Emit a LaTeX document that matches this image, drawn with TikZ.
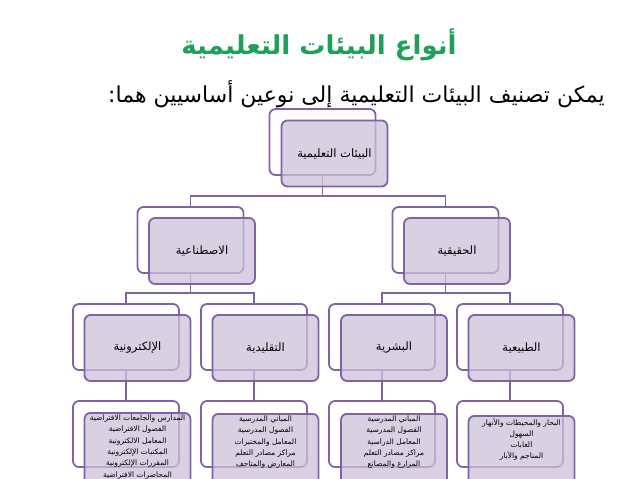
\documentclass[tikz,border=0pt]{standalone}
\usepackage{fontspec}
\newfontfamily\arabicfont[Script=Arabic]{DejaVu Sans}
\TeXXeTstate=1
\usetikzlibrary{backgrounds}
\definecolor{roxo}{RGB}{128,100,162}
\definecolor{lilas}{RGB}{204,193,218}
\definecolor{verde}{RGB}{30,160,90}
\newcommand{\rtltxt}[1]{\beginR #1\endR}
\begin{document}
\begin{tikzpicture}[x=1pt, y=-1pt]
\tikzset{
    ligacao/.style={-, line width=1.6pt, draw=roxo},
    fundo/.style={rectangle, rounded corners=6pt, line width=1.8pt, draw=roxo, fill=white,
                  minimum width=106pt, minimum height=66pt, inner sep=0pt},
    caixa/.style={fundo, fill=lilas, fill opacity=0.75, text opacity=1,
                  font=\arabicfont\fontsize{11.5}{14}\selectfont},
    folha/.style={caixa, anchor=north, minimum height=0pt, text depth=50pt, inner ysep=2pt,
                  align=center, font=\arabicfont\fontsize{7.5}{11.3}\selectfont}
}
\clip (0,0) rectangle (638,479);
\node[font=\arabicfont\bfseries\fontsize{26}{30}\selectfont, text=verde] (titulo) at (319,45) {\rtltxt{أنواع البيئات التعليمية}};
\node[font=\arabicfont\fontsize{22}{26}\selectfont] (subtitulo) at (356.5,94) {\rtltxt{يمكن تصنيف البيئات التعليمية إلى نوعين أساسيين هما:}};
% raiz
\node[fundo] (raiz-f) at (322.5,142) {};
\node[caixa] (raiz)   at (334.5,153.5) {\rtltxt{البيئات التعليمية}};
% segundo nivel
\node[fundo] (art-f)  at (190.5,240) {};
\node[caixa] (art)    at (202,251) {\rtltxt{الاصطناعية}};
\node[fundo] (real-f) at (445.5,240) {};
\node[caixa] (real)   at (457,251) {\rtltxt{الحقيقية}};
% terceiro nivel
\node[fundo] (elec-f) at (126,337) {};
\node[caixa] (elec)   at (137.5,348) {\rtltxt{الإلكترونية}};
\node[fundo] (trad-f) at (254,337) {};
\node[caixa] (trad)   at (265.5,348) {\rtltxt{التقليدية}};
\node[fundo] (bash-f) at (382,337) {};
\node[caixa] (bash)   at (394,348) {\rtltxt{البشرية}};
\node[fundo] (tab-f)  at (510,337) {};
\node[caixa] (tab)    at (521.5,348) {\rtltxt{الطبيعية}};
% folhas
\node[fundo] (f1-f) at (126,434) {};
\node[folha] (f1)   at (137.5,412) {\rtltxt{المدارس والجامعات الافتراضية}\\ \rtltxt{الفصول الافتراضية}\\
    \rtltxt{المعامل الالكترونية}\\ \rtltxt{المكتبات الإلكترونية}\\ \rtltxt{المقررات الإلكترونية}\\
    \rtltxt{المحاضرات الافتراضية}};
\node[fundo] (f2-f) at (254,434) {};
\node[folha] (f2)   at (265.5,413) {\rtltxt{المباني المدرسية}\\ \rtltxt{الفصول المدرسية}\\
    \rtltxt{المعامل والمختبرات}\\ \rtltxt{مراكز مصادر التعلم}\\ \rtltxt{المعارض والمتاحف}};
\node[fundo] (f3-f) at (382,434) {};
\node[folha] (f3)   at (394,413) {\rtltxt{المباني المدرسية}\\ \rtltxt{الفصول المدرسية}\\
    \rtltxt{المعامل الدراسية}\\ \rtltxt{مراكز مصادر التعلم}\\ \rtltxt{المزارع والمصانع}};
\node[fundo] (f4-f) at (510,434) {};
\node[folha] (f4)   at (521.5,415) {\rtltxt{البحار والمحيطات والأنهار}\\ \rtltxt{السهول}\\
    \rtltxt{الغابات}\\ \rtltxt{المناجم والآبار}};
% ligacoes
\begin{pgfonlayer}{background}
\draw[ligacao] (raiz-f.south) |- ([yshift=10pt]art-f.north) -- (art-f.north);
\draw[ligacao] (raiz-f.south) |- ([yshift=10pt]real-f.north) -- (real-f.north);
\draw[ligacao] (art-f.south) |- ([yshift=10pt]elec-f.north) -- (elec-f.north);
\draw[ligacao] (art-f.south) |- ([yshift=10pt]trad-f.north) -- (trad-f.north);
\draw[ligacao] (real-f.south) |- ([yshift=10pt]bash-f.north) -- (bash-f.north);
\draw[ligacao] (real-f.south) |- ([yshift=10pt]tab-f.north) -- (tab-f.north);
\draw[ligacao] (elec-f.south) -- (f1-f.north);
\draw[ligacao] (trad-f.south) -- (f2-f.north);
\draw[ligacao] (bash-f.south) -- (f3-f.north);
\draw[ligacao] (tab-f.south) -- (f4-f.north);
\end{pgfonlayer}
\end{tikzpicture}
\end{document}
